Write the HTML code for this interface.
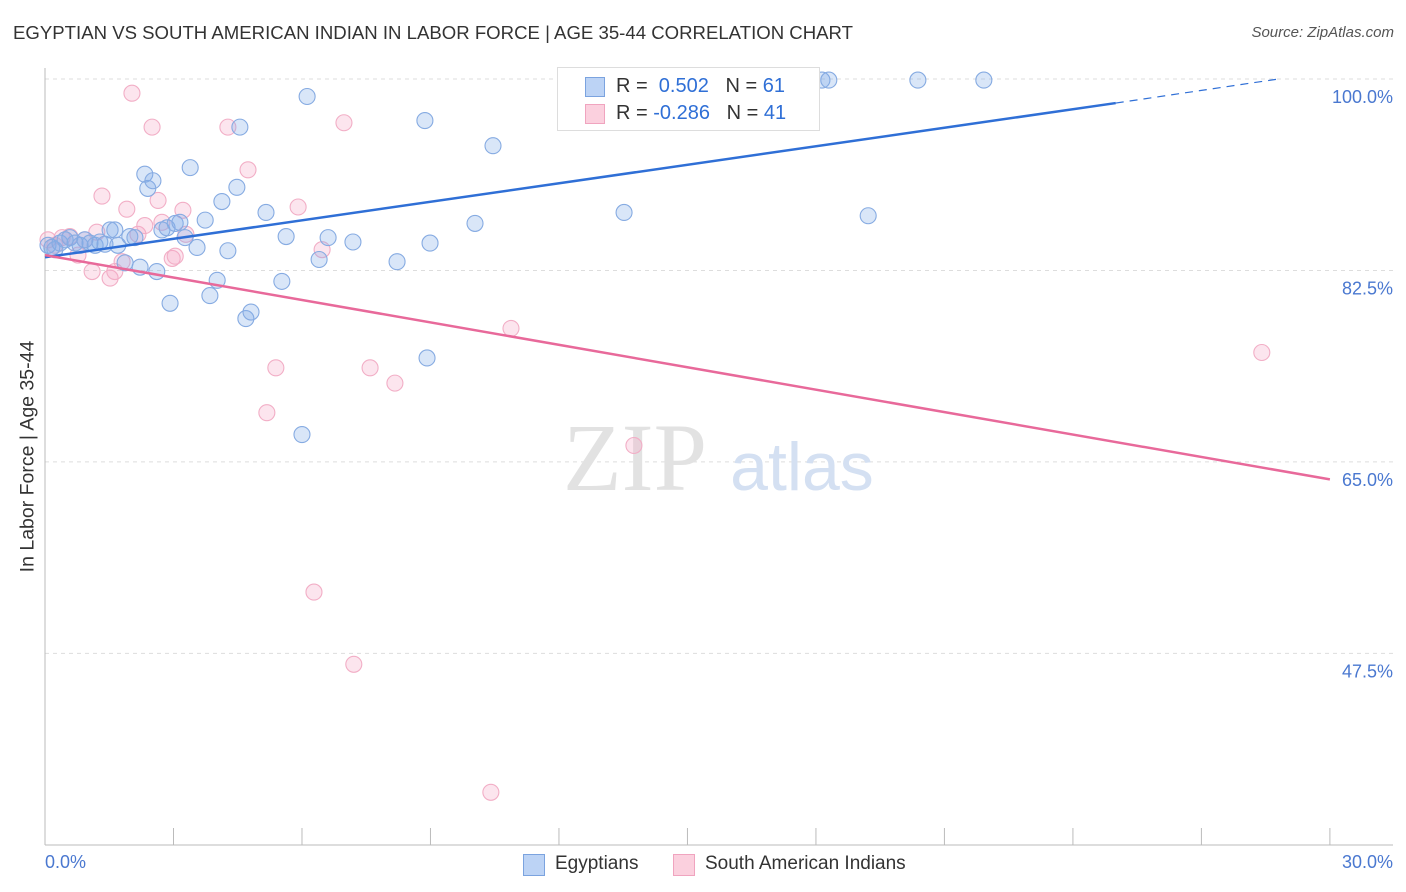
<!DOCTYPE html>
<html><head><meta charset="utf-8"><style>
body{margin:0;background:#fff;font-family:"Liberation Sans",sans-serif;}
#wrap{position:relative;width:1406px;height:892px;overflow:hidden;}
.t{position:absolute;white-space:nowrap;}
</style></head><body>
<div id="wrap">
<div class="t" style="left:13px;top:22px;font-size:18.6px;color:#333;">EGYPTIAN VS SOUTH AMERICAN INDIAN IN LABOR FORCE | AGE 35-44 CORRELATION CHART</div>
<div class="t" style="right:12px;top:24px;font-size:15px;color:#555;font-style:italic;">Source: ZipAtlas.com</div>
<svg id="svg" width="1406" height="892" style="position:absolute;left:0;top:0"></svg>
</div>
<script>
const blueX=[0.07,0.16,0.23,0.35,0.47,0.58,0.70,0.82,0.93,1.05,1.17,1.28,1.40,1.52,1.63,1.70,1.87,1.98,2.10,2.22,2.33,2.40,2.52,2.61,2.73,2.85,2.92,3.04,3.15,3.27,3.39,3.55,3.74,3.85,4.02,4.13,4.27,4.48,4.55,4.69,4.81,5.16,5.53,5.63,6.00,6.12,6.40,6.61,7.19,8.22,8.87,8.92,8.99,10.04,10.46,13.52,18.14,18.30,19.22,20.38,21.92];
const blueY=[84.8,84.6,84.4,85.0,85.3,85.5,85.0,84.8,85.3,85.0,84.8,85.1,84.9,86.2,86.2,84.8,83.2,85.6,85.5,82.8,91.3,90.0,90.7,82.4,86.2,86.4,79.5,86.8,86.9,85.5,91.9,84.6,87.1,80.2,81.6,88.8,84.3,90.1,95.6,78.1,78.7,87.8,81.5,85.6,67.5,98.4,83.5,85.5,85.1,83.3,96.2,74.5,85.0,86.8,93.9,87.8,99.9,99.9,87.5,99.9,99.9];
const pinkX=[0.07,0.23,0.40,0.58,0.77,0.93,1.10,1.21,1.33,1.52,1.63,1.80,1.91,2.03,2.17,2.33,2.50,2.64,2.73,2.97,3.04,3.22,3.29,4.27,4.74,5.18,5.39,5.91,6.28,6.47,6.98,7.21,7.59,8.17,10.41,10.88,13.75,28.41];
const pinkY=[85.3,84.8,85.5,85.6,83.9,85.3,82.4,86.0,89.3,81.8,82.4,83.3,88.1,98.7,85.8,86.6,95.6,88.9,86.9,83.6,83.8,88.0,85.8,95.6,91.7,69.5,73.6,88.3,53.1,84.4,96.0,46.5,73.6,72.2,34.8,77.2,66.5,75.0];
const yTicks=[100,82.5,65,47.5];
const yTickLabels=["100.0%","82.5%","65.0%","47.5%"];
const blueLine=[[0,83.7],[25,97.8],[28.8,100]];
const pinkLine=[[0,83.9],[30,63.4]];
const X=v=>45+v*42.83, Y=v=>79+(100-v)*10.94;
const svg=document.getElementById('svg');const NS='http://www.w3.org/2000/svg';
function mk(tag,a){const e=document.createElementNS(NS,tag);for(const k in a)e.setAttribute(k,a[k]);svg.appendChild(e);return e;}
yTicks.forEach((v,i)=>{
 const g=mk('line',{x1:45,x2:1393,y1:Y(v),y2:Y(v),stroke:'#ddd','stroke-dasharray':'4,4'});
 
 
 const t=mk('text',{x:1393,y:Y(v)+24,'text-anchor':'end','font-size':18,fill:'#4a78d0','font-family':'Liberation Sans'});
 t.textContent=yTickLabels[i];
 
 
});
let ax=mk('line',{x1:45,x2:45,y1:68,y2:845,stroke:'#bbb'});


ax=mk('line',{x1:45,x2:1393,y1:845,y2:845,stroke:'#bbb'});


for(let i=0;i<=10;i++){const tk=mk('line',{x1:X(i*3),x2:X(i*3),y1:828,y2:845,stroke:'#bbb'});
 
 }
let wm=mk('text',{x:635,y:490,'text-anchor':'middle','font-size':96,fill:'#e2e2e2','font-family':'Liberation Serif'});wm.textContent='ZIP';


wm=mk('text',{x:802,y:490,'text-anchor':'middle','font-size':68,fill:'#d4e0f2','font-family':'Liberation Sans'});wm.textContent='atlas';


pinkX.forEach((x,i)=>{const c=mk('circle',{cx:X(x),cy:Y(pinkY[i]),r:8,fill:'rgba(245,170,198,0.3)',stroke:'#f2aec6','stroke-width':1.1});
 
 });
blueX.forEach((x,i)=>{const c=mk('circle',{cx:X(x),cy:Y(blueY[i]),r:8,fill:'rgba(130,172,232,0.3)',stroke:'#86abe2','stroke-width':1.1});
 
 });
let l=mk('line',{x1:X(blueLine[0][0]),y1:Y(blueLine[0][1]),x2:X(blueLine[1][0]),y2:Y(blueLine[1][1]),stroke:'#2f6fd6','stroke-width':2.5});


l=mk('line',{x1:X(blueLine[1][0]),y1:Y(blueLine[1][1]),x2:X(blueLine[2][0]),y2:Y(blueLine[2][1]),stroke:'#2f6fd6','stroke-width':1.2,'stroke-dasharray':'8,6'});


l=mk('line',{x1:X(pinkLine[0][0]),y1:Y(pinkLine[0][1]),x2:X(pinkLine[1][0]),y2:Y(pinkLine[1][1]),stroke:'#e8699a','stroke-width':2.5});


</script>
<div class="t" style="left:45px;top:852px;font-size:18px;color:#4a78d0;">0.0%</div>
<div class="t" style="right:13px;top:852px;font-size:18px;color:#4a78d0;">30.0%</div>
<div class="t" style="left:-92px;top:445px;font-size:19.5px;color:#333;transform:rotate(-90deg);width:240px;text-align:center;">In Labor Force | Age 35-44</div>
<div style="position:absolute;left:557px;top:67px;width:261px;height:62px;border:1px solid #ddd;background:#fff;font-size:20px;">
 <div style="position:absolute;left:27px;top:9px;width:18px;height:18px;background:#bcd3f5;border:1px solid #7ba3df"></div>
 <div class="t" style="left:58px;top:7px;color:#333">R = <span style="color:#2f6fd6">&nbsp;0.502</span>&nbsp;&nbsp;&nbsp;N = <span style="color:#2f6fd6">61</span></div>
 <div style="position:absolute;left:27px;top:36px;width:18px;height:18px;background:#fbd0de;border:1px solid #f0a4bf"></div>
 <div class="t" style="left:58px;top:34px;color:#333">R = <span style="color:#2f6fd6">-0.286</span>&nbsp;&nbsp;&nbsp;N = <span style="color:#2f6fd6">41</span></div>
</div>
<div style="position:absolute;left:523px;top:854px;width:20px;height:20px;background:#bcd3f5;border:1px solid #7ba3df"></div>
<div class="t" style="left:555px;top:853px;font-size:19px;color:#333">Egyptians</div>
<div style="position:absolute;left:673px;top:854px;width:20px;height:20px;background:#fbd0de;border:1px solid #f0a4bf"></div>
<div class="t" style="left:705px;top:853px;font-size:19px;color:#333">South American Indians</div>
</body></html>
